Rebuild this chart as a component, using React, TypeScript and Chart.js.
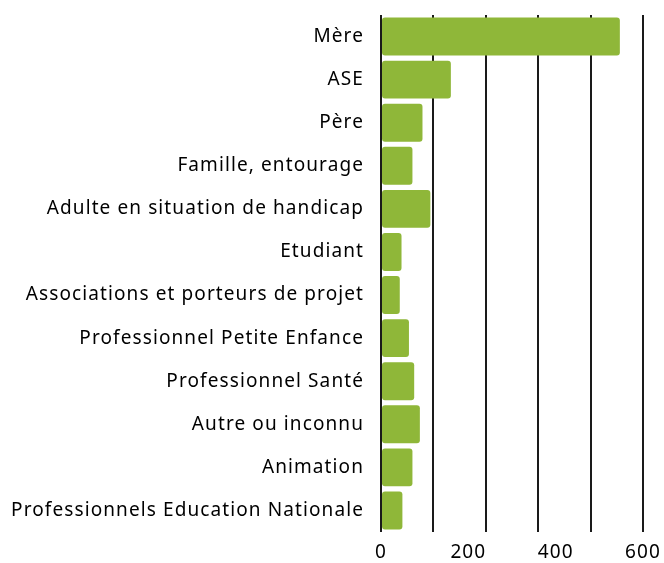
import React, { useEffect, useRef } from "react";
import { Chart, registerables } from "chart.js";

Chart.register(...registerables);

const categories = [
  "Mère",
  "ASE",
  "Père",
  "Famille, entourage",
  "Adulte en situation de handicap",
  "Etudiant",
  "Associations et porteurs de projet",
  "Professionnel Petite Enfance",
  "Professionnel Santé",
  "Autre ou inconnu",
  "Animation",
  "Professionnels Education Nationale",
];
const values = [547, 160, 95, 72, 113, 47, 43, 64, 76, 89, 72, 49];
const xMin = 0;
const xMax = 600;
const gridStep = 120;
const labelStep = 200;

const spacingPlugin = {
  id: "letterSpacing",
  beforeUpdate(chart: any) {
    try {
      chart.ctx.letterSpacing = "1.1px";
    } catch (e) {}
  },
  beforeDraw(chart: any) {
    try {
      chart.ctx.letterSpacing = "1.1px";
    } catch (e) {}
  },
};

export default function App() {
  const ref = useRef<HTMLCanvasElement | null>(null);
  useEffect(() => {
    if (!ref.current) return;
    const font = { family: "'Noto Sans', 'Open Sans', sans-serif", size: 19 };
    const chart = new Chart(ref.current, {
      type: "bar",
      plugins: [spacingPlugin],
      data: {
        labels: categories,
        datasets: [
          {
            data: values,
            backgroundColor: "#8fb739",
            borderRadius: 3,
            borderSkipped: false,
            barPercentage: 0.88,
            categoryPercentage: 1,
          },
        ],
      },
      options: {
        indexAxis: "y",
        animation: false,
        responsive: false,
        maintainAspectRatio: false,
        layout: { padding: { top: 15, right: 21, left: 0, bottom: 0 } },
        plugins: { legend: { display: false }, tooltip: { enabled: false } },
        scales: {
          x: {
            min: xMin,
            max: xMax,
            border: { display: false },
            afterFit: (scale: any) => {
              scale.paddingLeft = 0;
              scale.paddingRight = 0;
              scale.height = 31;
            },
            grid: {
              drawTicks: false,
              lineWidth: 2,
              color: (ctx: any) =>
                ctx.tick && ctx.tick.value % gridStep === 0 ? "#1a1a1a" : "rgba(0,0,0,0)",
            },
            ticks: {
              stepSize: 40,
              autoSkip: false,
              maxRotation: 0,
              padding: 9,
              color: "#000",
              font,
              callback: (v: any) => (Number(v) % labelStep === 0 ? String(v) : ""),
            },
          },
          y: {
            border: { display: false },
            grid: { display: false, drawTicks: false },
            afterFit: (scale: any) => {
              scale.width = 381;
              scale.paddingTop = 0;
              scale.paddingBottom = 0;
            },
            ticks: {
              autoSkip: false,
              padding: 17,
              color: "#000",
              font,
            },
          },
        },
      },
    });
    return () => chart.destroy();
  }, []);
  return (
    <div style={{ position: "absolute", left: 0, top: 0, width: 664, height: 563, background: "#fff" }}>
      <canvas ref={ref} width={664} height={563} style={{ width: 664, height: 563 }} />
    </div>
  );
}
